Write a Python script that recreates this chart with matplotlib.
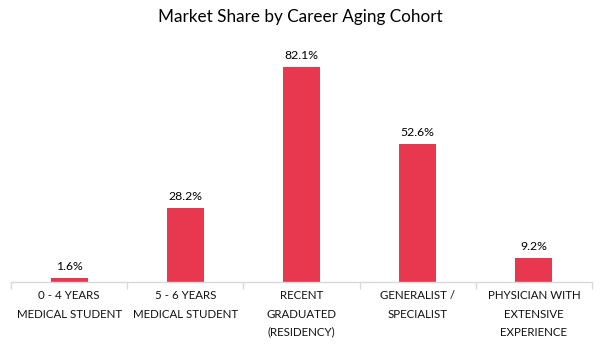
import matplotlib
matplotlib.use("Agg")
import matplotlib.pyplot as plt
import numpy as np

categories = ["0 - 4 YEARS\nMEDICAL STUDENT", "5 - 6 YEARS\nMEDICAL STUDENT",
              "RECENT\nGRADUATED\n(RESIDENCY)", "GENERALIST /\nSPECIALIST",
              "PHYSICIAN WITH\nEXTENSIVE\nEXPERIENCE"]
values = [1.6, 28.2, 82.1, 52.6, 9.2]
labels = ["1.6%", "28.2%", "82.1%", "52.6%", "9.2%"]

plt.rcParams['font.family'] = ['Lato', 'DejaVu Sans']
fig = plt.figure(figsize=(6.01, 3.47), dpi=100)
H = 347.0
ax = fig.add_axes([11/601, (347-282)/H, (592-11)/601, (282-46)/H])
x = np.arange(len(categories))
color = "#E8384F"
ax.bar(x, values, width=0.32, color=color)
ax.set_xlim(-0.5, len(categories) - 0.5)
ax.set_ylim(0, 90)
for xi, v, l in zip(x, values, labels):
    ax.text(xi, v + 2.2, l, ha='center', va='bottom', fontsize=8.8, color='#000000')
for s in ['top', 'right', 'left']:
    ax.spines[s].set_visible(False)
ax.spines['bottom'].set_color('#d9d9d9')
ax.spines['bottom'].set_linewidth(1.0)
ax.set_yticks([])
ax.set_xticks(x)
ax.set_xticklabels(categories, fontsize=8.3, linespacing=1.8, color='#111111')
ax.tick_params(axis='x', which='major', length=0, pad=6)
ax.set_xticks(np.arange(-0.5, len(categories)), minor=True)
ax.tick_params(axis='x', which='minor', length=5, color='#d9d9d9', width=1)
fig.text(0.5, 1 - 17/H, "Market Share by Career Aging Cohort", ha='center', va='center', fontsize=12.3)
fig.savefig("out.png", dpi=100)
